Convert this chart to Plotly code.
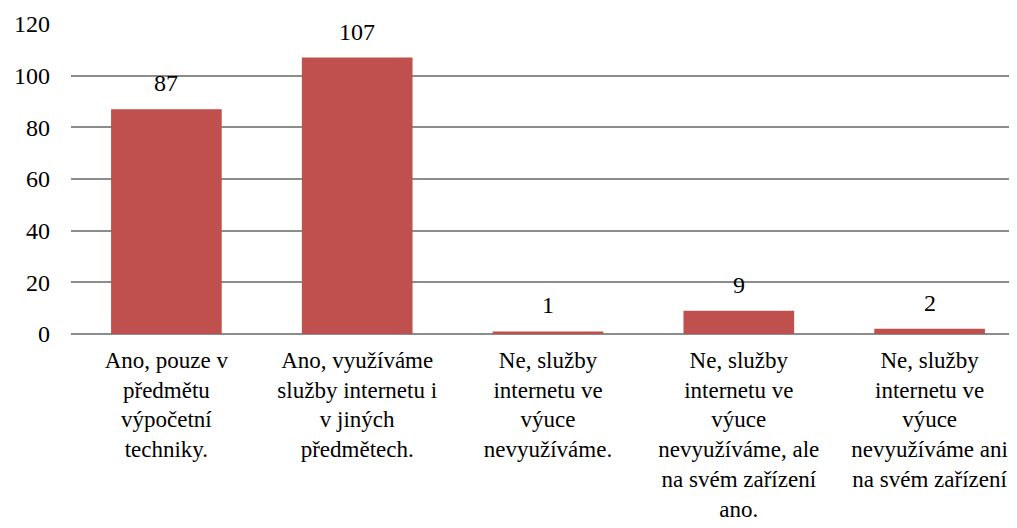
import plotly.graph_objects as go

categories = [
    "Ano, pouze v<br>předmětu<br>výpočetní<br>techniky.",
    "Ano, využíváme<br>služby internetu i<br>v jiných<br>předmětech.",
    "Ne, služby<br>internetu ve<br>výuce<br>nevyužíváme.",
    "Ne, služby<br>internetu ve<br>výuce<br>nevyužíváme, ale<br>na svém zařízení<br>ano.",
    "Ne, služby<br>internetu ve<br>výuce<br>nevyužíváme ani<br>na svém zařízení",
]
values = [87, 107, 1, 9, 2]

font = "Times New Roman"

trace = go.Bar(
    x=categories,
    y=values,
    marker=dict(color="#C0504D", line=dict(width=0)),
    hoverinfo="x+y",
)

fig = go.Figure(data=[trace])

# value labels floating above each bar
for c, v in zip(categories, values):
    fig.add_annotation(
        x=c, y=v, text=str(v), showarrow=False,
        yanchor="bottom", yshift=11,
        font=dict(family=font, size=24, color="#000000"),
    )

# page has an 8px body margin, so margins are offset by that
fig.update_layout(
    width=1017,
    height=528,
    margin=dict(l=63, r=0, t=16, b=202),
    plot_bgcolor="#FFFFFF",
    paper_bgcolor="#FFFFFF",
    bargap=0.42,
    showlegend=False,
    font=dict(family=font, size=23, color="#000000"),
)
fig.update_yaxes(
    range=[0, 120],
    dtick=20,
    showgrid=True,
    gridcolor="#8C8C8C",
    gridwidth=1.5,
    zeroline=True,
    zerolinecolor="#8C8C8C",
    zerolinewidth=1.5,
    ticks="",
    ticklabelstandoff=20,
    tickfont=dict(family=font, size=24),
    automargin=False,
)
fig.update_xaxes(
    ticks="outside",
    ticklen=5,
    tickcolor="rgba(0,0,0,0)",
    showline=False,
    tickangle=0,
    tickfont=dict(family=font, size=23),
    automargin=False,
)

fig.write_html("out.html")
